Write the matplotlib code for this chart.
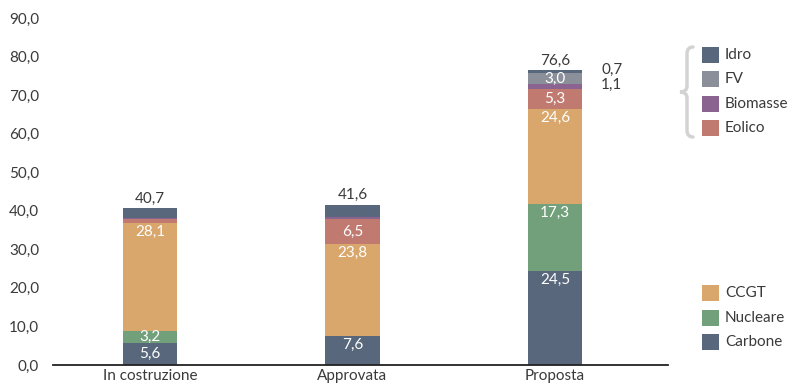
import numpy as np
import matplotlib
matplotlib.use("Agg")
import matplotlib.pyplot as plt
from matplotlib.patches import Rectangle, PathPatch
from matplotlib.path import Path

plt.rcParams['font.family'] = ['Lato', 'DejaVu Sans']

# 装机容量 (GW) 按状态分类
categories = ['In costruzione', 'Approvata', 'Proposta']
carbone  = [5.6, 7.6, 24.5]
nucleare = [3.2, 0.0, 17.3]
ccgt     = [28.1, 23.8, 24.6]
eolico   = [0.9, 6.5, 5.3]
biomasse = [0.4, 0.5, 1.1]
fv       = [0.0, 0.0, 3.0]
idro     = [2.5, 3.2, 0.7]
totals   = [40.7, 41.6, 76.6]

series = [
    ('Carbone', carbone, '#58677b'),
    ('Nucleare', nucleare, '#72a07b'),
    ('CCGT', ccgt, '#d9a66b'),
    ('Eolico', eolico, '#c07a70'),
    ('Biomasse', biomasse, '#8a6390'),
    ('FV', fv, '#8a8f99'),
    ('Idro', idro, '#58677b'),
]
# 哪些分段在柱内标注数值
inner_labels = {
    'Carbone': [True, True, True],
    'Nucleare': [True, False, True],
    'CCGT': [True, True, True],
    'Eolico': [False, True, True],
    'Biomasse': [False, False, False],
    'FV': [False, False, True],
    'Idro': [False, False, False],
}

txt = '#3a3a3a'
W, H = 798, 386
fig = plt.figure(figsize=(W / 100, H / 100), dpi=100)
ax = fig.add_axes([53 / W, 1 - 365 / H, (668 - 53) / W, (365 - 18) / H])

x = np.arange(len(categories))
bw = 0.267
bottom = np.zeros(len(categories))
for name, vals, col in series:
    vals = np.array(vals)
    ax.bar(x, vals, bw, bottom=bottom, color=col, linewidth=0)
    for i, v in enumerate(vals):
        if inner_labels[name][i]:
            # 小分段居中，大分段标在顶部下方
            yl = bottom[i] + v / 2 if v < 7 else bottom[i] + v - 2.3
            ax.text(x[i], yl, f'{v:.1f}'.replace('.', ','), ha='center', va='center',
                    color='white', fontsize=11)
    bottom += vals

for i, t in enumerate(totals):
    ax.text(x[i], bottom[i] + 0.6, f'{t:.1f}'.replace('.', ','), ha='center', va='bottom',
            color=txt, fontsize=11)

# Proposta 中过小的分段在柱外标注
b3 = carbone[2] + nucleare[2] + ccgt[2] + eolico[2]
ax.text(2.28, b3 + biomasse[2] / 2 + 0.5, f'{biomasse[2]:.1f}'.replace('.', ','),
        ha='center', va='center', color=txt, fontsize=11)
b3 += biomasse[2] + fv[2]
ax.text(2.28, b3 + idro[2] / 2 + 0.5, f'{idro[2]:.1f}'.replace('.', ','),
        ha='center', va='center', color=txt, fontsize=11)

ax.set_xlim(-0.479, 2.558)
ax.set_ylim(0, 90)
ax.set_yticks(np.arange(0, 91, 10))
ax.set_yticklabels([f'{v:.1f}'.replace('.', ',') for v in np.arange(0, 91, 10)])
ax.set_xticks(x)
ax.set_xticklabels(categories)
ax.tick_params(axis='both', length=0, colors=txt, labelsize=11)
ax.tick_params(axis='y', pad=10)
ax.tick_params(axis='x', pad=3)
for s in ['top', 'right', 'left']:
    ax.spines[s].set_visible(False)
ax.spines['bottom'].set_color('#222222')
ax.spines['bottom'].set_linewidth(1.3)


def fpt(px, py):
    return (px / W, 1 - py / H)


# 图例
legend_rows = [
    ('Idro', '#58677b', 55),
    ('FV', '#8a8f99', 79),
    ('Biomasse', '#8a6390', 104),
    ('Eolico', '#c07a70', 128),
    ('CCGT', '#d9a66b', 293),
    ('Nucleare', '#72a07b', 317.5),
    ('Carbone', '#58677b', 342),
]
for lab, col, cy in legend_rows:
    x0, y0 = fpt(702, cy + 8)
    fig.add_artist(Rectangle((x0, y0), 17 / W, 16 / H, transform=fig.transFigure,
                             facecolor=col, edgecolor='none'))
    tx, ty = fpt(725, cy)
    fig.text(tx, ty, lab, ha='left', va='center', color=txt, fontsize=11)

# 左侧花括号
xr, xm, xl = 693, 687, 680
yt, yb = 47, 137
ym = (yt + yb) / 2
verts = [
    (xr, yt), (xm, yt), (xm, yt + 7),
    (xm, ym - 6),
    (xm, ym), (xl, ym),
    (xm, ym), (xm, ym + 6),
    (xm, yb - 7),
    (xm, yb), (xr, yb),
]
codes = [Path.MOVETO, Path.CURVE3, Path.CURVE3, Path.LINETO,
         Path.CURVE3, Path.CURVE3, Path.CURVE3, Path.CURVE3,
         Path.LINETO, Path.CURVE3, Path.CURVE3]
brace = Path([fpt(a, b) for a, b in verts], codes)
fig.add_artist(PathPatch(brace, transform=fig.transFigure, facecolor='none',
                         edgecolor='#d3d3d3', linewidth=2.5, capstyle='round'))

fig.savefig('out.png', dpi=100, facecolor='white')
